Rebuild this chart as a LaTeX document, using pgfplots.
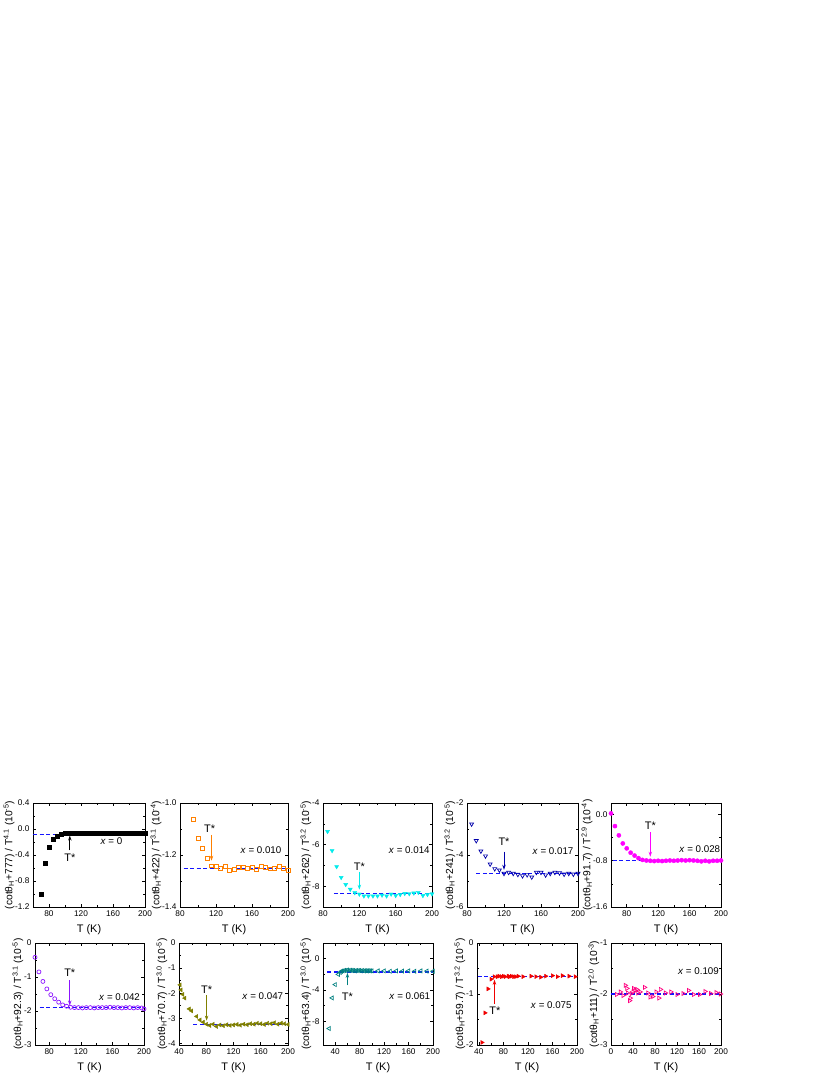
\documentclass[border=0pt]{standalone}
\usepackage{fontspec}
\setmainfont{Liberation Sans}
\usepackage{pgfplots}
\pgfplotsset{compat=1.18}
\usetikzlibrary{arrows.meta}

\definecolor{cOrange}{RGB}{255,128,0}
\definecolor{cCyan}{RGB}{0,235,235}
\definecolor{cNavy}{RGB}{0,0,170}
\definecolor{cMagenta}{RGB}{255,0,255}
\definecolor{cViolet}{RGB}{140,20,255}
\definecolor{cOlive}{RGB}{128,128,0}
\definecolor{cTeal}{RGB}{0,128,128}
\definecolor{cRed}{RGB}{240,0,0}
\definecolor{cPink}{RGB}{255,0,128}
\definecolor{cDash}{RGB}{20,20,255}

\newcommand{\ylab}[3]{(cotθ\textsubscript{H}+#1) / T\textsuperscript{#2} (10\textsuperscript{-#3})}
\newcommand{\xnote}[1]{\fontsize{9.8}{10}\selectfont\textit{x} = #1}

\pgfplotsset{
  panel/.style={
    scale only axis, anchor=south west, clip=false,
    xmax=200,
    xtick pos=both, ytick pos=both, tick align=inside,
    minor x tick num=1, minor y tick num=1,
    major tick length=3bp, minor tick length=1.6bp,
    every tick/.style={black, line width=0.6bp},
    axis line style={line width=0.8bp},
    tick label style={font=\fontsize{8.3}{9}\selectfont},
    xlabel style={font=\fontsize{11}{12}\selectfont, yshift=-1bp},
    ylabel style={font=\fontsize{10.3}{11}\selectfont, yshift=-6bp},
    xlabel={T (K)},
    /pgf/number format/assume math mode=true,
  },
  onedec/.style={yticklabel style={/pgf/number format/.cd, fixed, fixed zerofill, precision=1}},
  dline/.style={cDash, line width=1.2bp, dash pattern=on 4bp off 2.5bp, forget plot},
}
\tikzset{
  tarr/.style={-{Stealth[length=5bp,width=3.4bp]}, line width=0.9bp},
  tlab/.style={font=\fontsize{11}{12}\selectfont},
}

\begin{document}
\begin{tikzpicture}
\path[use as bounding box, fill=white] (0,0) rectangle (830bp,1075bp);

% ---------------- row 1 ----------------
\begin{axis}[panel, onedec, at={(33bp,168bp)}, width=112bp, height=104bp,
  xmin=60, xtick={80,120,160,200}, ymin=-1.2, ymax=0.4, ytick={-1.2,-0.8,-0.4,0,0.4},
  ylabel={\ylab{777}{4.1}{5}}]
\addplot[dline] coordinates {(60,-0.08) (200,-0.08)};
\addplot[only marks, mark=square*, mark size=2bp, black] coordinates {
(70,-1.0) (75,-0.52) (80,-0.28) (85,-0.15) (90,-0.11) (95,-0.08) (100,-0.07)
(105,-0.065) (110,-0.065) (115,-0.065) (120,-0.065) (125,-0.065) (130,-0.065)
(135,-0.065) (140,-0.065) (145,-0.065) (150,-0.065) (155,-0.065) (160,-0.065)
(165,-0.065) (170,-0.065) (175,-0.065) (180,-0.065) (185,-0.065) (190,-0.065)
(195,-0.065) (200,-0.065)};
\draw[tarr, black] (axis cs:106,-0.33) -- (axis cs:106,-0.1);
\node[tlab] at (axis cs:106,-0.44) {T*};
\node at (axis cs:158,-0.19) {\xnote{0}};
\end{axis}

\begin{axis}[panel, onedec, at={(180bp,168bp)}, width=108bp, height=104bp,
  xmin=80, xtick={80,120,160,200}, ymin=-1.4, ymax=-1.0, ytick={-1.4,-1.2,-1.0},
  ylabel={\ylab{422}{3.1}{4}}]
\addplot[dline] coordinates {(84,-1.252) (200,-1.252)};
\addplot[only marks, mark=square, mark size=1.9bp, cOrange, mark options={line width=0.7bp}] coordinates {
(95,-1.062) (100,-1.135) (105,-1.175) (110,-1.214) (115,-1.242)
(120,-1.245) (125,-1.252) (130,-1.243) (135,-1.258) (140,-1.255) (145,-1.247)
(150,-1.246) (155,-1.252) (160,-1.246) (165,-1.255) (170,-1.245) (175,-1.248)
(180,-1.253) (185,-1.251) (190,-1.245) (195,-1.251) (200,-1.258)};
\draw[tarr, cOrange] (axis cs:115,-1.123) -- (axis cs:115,-1.222);
\node[tlab] at (axis cs:113,-1.1) {T*};
\node at (axis cs:170,-1.18) {\xnote{0.010}};
\end{axis}

\begin{axis}[panel, at={(323bp,168bp)}, width=109bp, height=104bp,
  xmin=80, xtick={80,120,160,200}, ymin=-9, ymax=-4, ytick={-8,-6,-4},
  ylabel={\ylab{262}{3.2}{5}}]
\addplot[dline] coordinates {(92,-8.34) (200,-8.34)};
\addplot[only marks, mark=triangle*, mark size=2.3bp, cCyan, mark options={rotate=180}] coordinates {
(85,-5.37) (90,-6.29) (95,-7.06) (100,-7.58) (105,-7.92) (110,-8.15) (115,-8.31)
(120,-8.38) (125,-8.47) (130,-8.47) (135,-8.47) (140,-8.47) (145,-8.43) (150,-8.47)
(155,-8.38) (160,-8.45) (165,-8.40) (170,-8.35) (175,-8.36) (180,-8.33) (185,-8.30)
(190,-8.45) (195,-8.40) (200,-8.37)};
\draw[tarr, cCyan] (axis cs:120,-7.3) -- (axis cs:120,-8.17);
\node[tlab] at (axis cs:120,-7.06) {T*};
\node at (axis cs:175,-6.26) {\xnote{0.014}};
\end{axis}

\begin{axis}[panel, at={(467bp,168bp)}, width=111bp, height=104bp,
  xmin=80, xtick={80,120,160,200}, ymin=-6, ymax=-2, ytick={-6,-4,-2},
  ylabel={\ylab{241}{3.2}{5}}]
\addplot[dline] coordinates {(90,-4.72) (200,-4.72)};
\addplot[only marks, mark=triangle, mark size=2.3bp, cNavy, mark options={rotate=180, line width=0.7bp}] coordinates {
(85,-2.81) (90,-3.45) (95,-3.85) (100,-4.04) (105,-4.35) (110,-4.53) (115,-4.58)
(120,-4.71) (125,-4.67) (130,-4.71) (135,-4.75) (140,-4.80) (145,-4.76) (150,-4.85)
(155,-4.67) (160,-4.67) (165,-4.77) (170,-4.71) (175,-4.67) (180,-4.69) (185,-4.74)
(190,-4.71) (195,-4.74) (200,-4.71)};
\draw[tarr, cNavy] (axis cs:120,-3.87) -- (axis cs:120,-4.57);
\node[tlab] at (axis cs:120,-3.49) {T*};
\node at (axis cs:173,-3.85) {\xnote{0.017}};
\end{axis}

\begin{axis}[panel, onedec, at={(611bp,168bp)}, width=110bp, height=104bp,
  xmin=60, xtick={80,120,160,200}, ymin=-1.6, ymax=0.2, ytick={-1.6,-0.8,0},
  ylabel={\ylab{91.7}{2.9}{4}}]
\addplot[dline] coordinates {(62,-0.8) (200,-0.8)};
\addplot[only marks, mark=*, mark size=2.1bp, cMagenta] coordinates {
(60,0.02) (65,-0.2) (70,-0.36) (75,-0.5) (80,-0.585) (85,-0.66) (90,-0.71)
(95,-0.755) (100,-0.785) (105,-0.795) (110,-0.80) (115,-0.805) (120,-0.80)
(125,-0.805) (130,-0.80) (135,-0.795) (140,-0.80) (145,-0.795) (150,-0.79)
(155,-0.795) (160,-0.79) (165,-0.795) (170,-0.80) (175,-0.81) (180,-0.80)
(185,-0.81) (190,-0.80) (195,-0.80) (200,-0.795)};
\draw[tarr, cMagenta] (axis cs:110,-0.31) -- (axis cs:110,-0.73);
\node[tlab] at (axis cs:110,-0.19) {T*};
\node at (axis cs:173,-0.6) {\xnote{0.028}};
\end{axis}

% ---------------- row 2 ----------------
\begin{axis}[panel, at={(35bp,30bp)}, width=109bp, height=102bp,
  xmin=62, xtick={80,120,160,200}, ymin=-3, ymax=0, ytick={-3,-2,-1,0},
  ylabel={\ylab{92.3}{3.1}{5}}]
\addplot[dline] coordinates {(68,-1.9) (200,-1.9)};
\addplot[only marks, mark=o, mark size=2bp, cViolet, mark options={line width=0.7bp}] coordinates {
(62,-0.42) (67,-0.85) (72,-1.13) (77,-1.35) (82,-1.52) (87,-1.64) (92,-1.74)
(97,-1.82) (102,-1.86) (107,-1.89) (112,-1.90) (117,-1.90) (122,-1.91) (127,-1.90)
(132,-1.90) (137,-1.91) (142,-1.90) (147,-1.90) (152,-1.90) (157,-1.89) (162,-1.90)
(167,-1.90) (172,-1.91) (177,-1.90) (182,-1.90) (187,-1.91) (192,-1.90) (197,-1.91)
(200,-1.94)};
\draw[tarr, cViolet] (axis cs:106,-1.10) -- (axis cs:106,-1.84);
\node[tlab] at (axis cs:106,-0.88) {T*};
\node at (axis cs:169,-1.6) {\xnote{0.042}};
\end{axis}

\begin{axis}[panel, at={(179bp,30bp)}, width=109bp, height=102bp,
  xmin=40, xtick={40,80,120,160,200}, ymin=-4.07, ymax=0, ytick={-4,-3,-2,-1,0},
  ylabel={\ylab{70.7}{3.0}{5}}]
\addplot[dline] coordinates {(61,-3.24) (200,-3.24)};
\addplot[only marks, mark=triangle*, mark size=2.3bp, cOlive, mark options={rotate=90}] coordinates {
(41.5,-1.67) (43,-1.87) (45.5,-2.05) (48.5,-2.2) (55,-2.63) (58.5,-2.71) (65.9,-2.93)
(70.7,-3.07) (75.6,-3.16) (80.5,-3.24) (85,-3.29) (90,-3.24) (95,-3.33) (100,-3.27)
(105,-3.30) (110,-3.26) (115,-3.29) (120,-3.27) (125,-3.25) (130,-3.28) (135,-3.24)
(140,-3.26) (145,-3.22) (150,-3.24) (155,-3.20) (160,-3.22) (165,-3.25) (170,-3.20)
(175,-3.22) (180,-3.18) (185,-3.24) (190,-3.20) (195,-3.22) (200,-3.25)};
\draw[tarr, cOlive] (axis cs:80.5,-2.07) -- (axis cs:80.5,-3.1);
\node[tlab] at (axis cs:80.5,-1.87) {T*};
\node at (axis cs:163,-2.13) {\xnote{0.047}};
\end{axis}

\begin{axis}[panel, at={(323bp,30bp)}, width=110bp, height=102bp,
  xmin=20, xtick={40,80,120,160,200}, ymin=-11, ymax=2, ytick={-8,-4,0},
  ylabel={\ylab{63.4}{3.0}{5}}]
\addplot[dline] coordinates {(27,-1.7) (200,-1.7)};
\addplot[only marks, mark=triangle, mark size=2.3bp, cTeal, mark options={rotate=90, line width=0.7bp}] coordinates {
(30,-8.9) (35,-5.0) (40,-3.3) (45,-2.0) (48,-1.75) (50,-1.6) (52.5,-1.55) (55,-1.5)
(57.5,-1.5) (60,-1.45) (62.5,-1.5) (65,-1.48) (67.5,-1.5) (70,-1.5) (72.5,-1.55)
(75,-1.5) (77.5,-1.52) (80,-1.5) (82.5,-1.55) (85,-1.5) (87.5,-1.55) (90,-1.52)
(92.5,-1.55) (95,-1.52) (97.5,-1.55) (100,-1.55) (110,-1.55) (120,-1.55) (130,-1.6)
(140,-1.55) (150,-1.58) (160,-1.55) (170,-1.6) (180,-1.55) (190,-1.58) (200,-1.6)};
\draw[tarr, cTeal] (axis cs:60,-3.4) -- (axis cs:60,-1.8);
\node[tlab] at (axis cs:60,-4.84) {T*};
\node at (axis cs:162,-4.8) {\xnote{0.061}};
\end{axis}

\begin{axis}[panel, at={(477bp,30bp)}, width=100bp, height=102bp,
  xmin=37, xtick={40,80,120,160,200}, ymin=-2, ymax=0, ytick={-2,-1,0},
  ylabel={\ylab{59.7}{3.2}{5}}]
\addplot[dline] coordinates {(38,-0.65) (200,-0.65)};
\addplot[only marks, mark=triangle*, mark size=2.3bp, cRed, mark options={rotate=-90}] coordinates {
(45,-1.95) (50,-1.37) (55,-0.9) (60,-0.71) (65,-0.66) (70,-0.66) (73,-0.65) (77,-0.66)
(80,-0.65) (83,-0.66) (88,-0.65) (90,-0.66) (93,-0.65) (97,-0.66) (100,-0.66)
(104,-0.65) (112,-0.66) (125,-0.65) (133,-0.66) (141,-0.67) (149,-0.65) (160,-0.64)
(168,-0.66) (176,-0.64) (187,-0.65) (197,-0.66)};
\draw[tarr, cRed] (axis cs:65.5,-1.19) -- (axis cs:65.5,-0.72);
\node[tlab] at (axis cs:66,-1.32) {T*};
\node at (axis cs:158,-1.22) {\xnote{0.075}};
\end{axis}

\begin{axis}[panel, at={(611bp,30bp)}, width=110bp, height=102bp,
  xmin=0, xtick={0,40,80,120,160,200}, ymin=-3, ymax=-1, ytick={-3,-2,-1},
  ylabel={\ylab{111}{2.0}{3}}]
\addplot[dline] coordinates {(0,-2) (200,-2)};
\addplot[only marks, mark=triangle, mark size=2.3bp, cPink, mark options={rotate=-90, line width=0.7bp}] coordinates {
(10,-2.01) (17,-1.96) (22,-2.03) (26,-1.83) (29,-1.89) (30,-1.98) (34,-2.13) (35,-2.08)
(37,-1.99) (40,-1.96) (41,-1.89) (44,-1.93) (47,-1.91) (49,-1.98) (53,-1.96)
(61,-1.87) (67,-1.98) (71,-2.06) (76,-2.05) (82,-1.96) (87,-2.08) (90,-1.91)
(99,-1.98) (109,-1.96) (120,-2.01) (131,-1.99) (141,-1.93) (150,-2.01) (161,-2.01)
(171,-1.95) (181,-1.99) (191,-1.97) (199,-2.0)};
\node at (axis cs:159,-1.56) {\xnote{0.109}};
\end{axis}
\end{tikzpicture}
\end{document}
